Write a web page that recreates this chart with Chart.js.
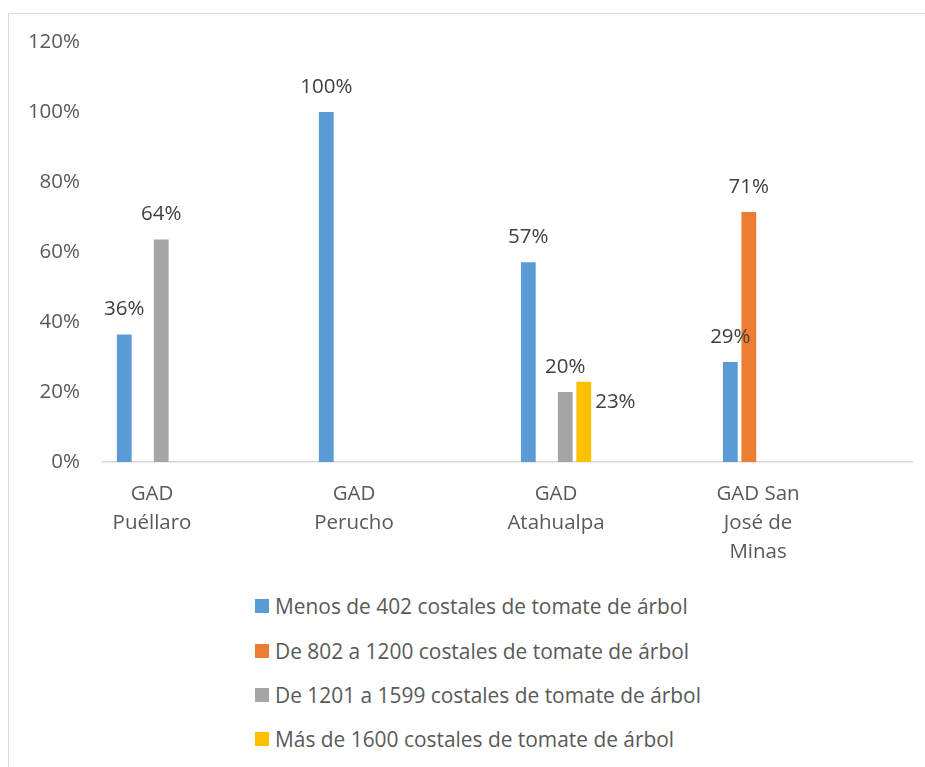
<!DOCTYPE html>
<html>
<head>
<meta charset="utf-8">
<script src="https://cdn.jsdelivr.net/npm/chart.js@4"></script>
<style>
  body { margin: 0; width: 925px; height: 767px; overflow: hidden; background: #fff; position: relative; font-family: "Open Sans", sans-serif; }
  .frame { position: absolute; left: 8px; top: 13px; width: 1000px; height: 1000px; border-left: 1.5px solid #d9d9d9; border-top: 1.5px solid #d9d9d9; }
  .chart-box { position: absolute; left: 0; top: 0; width: 925px; height: 580px; }
  .legend { position: absolute; left: 255px; top: 584px; }
  .legend-item { height: 44.4px; display: flex; align-items: center; font-size: 20.9px; color: #595959; }
  .legend-item span.box { width: 14px; height: 14px; margin-right: 6px; flex: none; }
</style>
</head>
<body>
<div class="frame"></div>
<div class="chart-box"><canvas id="bar-chart" width="925" height="580"></canvas></div>
<div class="legend" id="legend"></div>
<script>
const categories = [
  ["GAD", "Puéllaro"],
  ["GAD", "Perucho"],
  ["GAD", "Atahualpa"],
  ["GAD San", "José de", "Minas"],
];

const seriesNames = [
  "Menos de 402 costales de tomate de árbol",
  "De 802 a 1200 costales de tomate de árbol",
  "De 1201 a 1599 costales de tomate de árbol",
  "Más de 1600 costales de tomate de árbol",
];

// percent values per municipality, null = no bar
const menos402 = [36.4, 100, 57.1, 28.6];
const de802a1200 = [null, null, null, 71.4];
const de1201a1599 = [63.6, null, 20, null];
const mas1600 = [null, null, 22.9, null];

const yTicks = [0, 20, 40, 60, 80, 100, 120];

const seriesColors = ["#5B9BD5", "#ED7D31", "#A5A5A5", "#FFC000"];

const toPoints = (values) => values.map((v, i) => ({ x: i, y: v }));

// draws the % above each bar (the yellow one sits to the right, as in the original)
const valueLabels = {
  id: "valueLabels",
  afterDatasetsDraw(chart) {
    const ctx = chart.ctx;
    ctx.save();
    ctx.font = "20.5px 'Open Sans'";
    ctx.fillStyle = "#404040";
    ctx.textBaseline = "middle";
    chart.data.datasets.forEach((dataset, di) => {
      const meta = chart.getDatasetMeta(di);
      meta.data.forEach((bar, i) => {
        const v = dataset.data[i].y;
        if (v === null || v === undefined) return;
        const text = Math.round(v) + "%";
        if (di === 3) {
          ctx.textAlign = "left";
          ctx.fillText(text, bar.x + bar.width / 2 + 4, bar.y + 20);
        } else {
          ctx.textAlign = "center";
          ctx.fillText(text, bar.x, bar.y - 25);
        }
      });
    });
    ctx.restore();
  },
};

const renderChart = () => {
  const canvas = document.querySelector("#bar-chart");
  const datasetValues = [menos402, de802a1200, de1201a1599, mas1600];

  const chart = new Chart(canvas, {
    type: "bar",
    data: {
      datasets: datasetValues.map((values, i) => ({
        label: seriesNames[i],
        data: toPoints(values),
        backgroundColor: seriesColors[i],
        borderWidth: 0,
        categoryPercentage: 0.366,
        barPercentage: 0.8,
      })),
    },
    options: {
      responsive: false,
      animation: false,
      devicePixelRatio: 1,
      layout: { padding: { top: 42, right: 13, bottom: 0, left: 0 } },
      plugins: {
        legend: { display: false },
        tooltip: { enabled: false },
      },
      scales: {
        x: {
          type: "linear",
          offset: false,
          bounds: "data",
          min: -0.2475,
          max: 3.762,
          grid: { display: false, offset: false },
          border: { display: true, color: "#d9d9d9", width: 1.5 },
          afterBuildTicks: (scale) => {
            scale.ticks = categories.map((c, i) => ({ value: i }));
          },
          afterFit: (scale) => {
            scale.height = 118;
          },
          ticks: {
            autoSkip: false,
            maxRotation: 0,
            padding: 10,
            color: "#595959",
            font: { family: "Open Sans", size: 20.5, lineHeight: 1.41 },
            callback: (value) => categories[value],
          },
        },
        y: {
          min: 0,
          max: 120,
          grid: { display: false },
          border: { display: false },
          afterBuildTicks: (scale) => {
            scale.ticks = yTicks.map((v) => ({ value: v }));
          },
          afterFit: (scale) => {
            scale.width = 102;
          },
          ticks: {
            padding: 14,
            color: "#595959",
            font: { family: "Open Sans", size: 20.5 },
            callback: (value) => value + "%",
          },
        },
      },
    },
    plugins: [valueLabels],
  });

  const legend = document.querySelector("#legend");
  chart.data.datasets.forEach((ds) => {
    const item = document.createElement("div");
    item.className = "legend-item";
    item.innerHTML = `<span class="box" style="background:${ds.backgroundColor}"></span>${ds.label}`;
    legend.appendChild(item);
  });
};

renderChart();
</script>
</body>
</html>
